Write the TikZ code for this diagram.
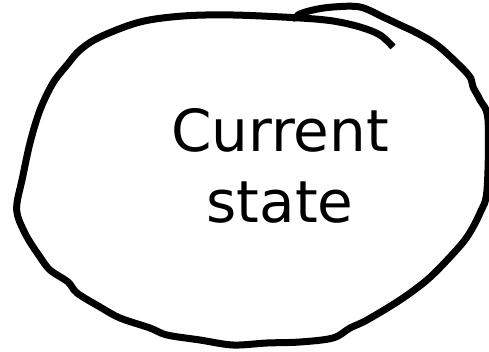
\documentclass[tikz,border=0pt]{standalone}
\usepackage{fontspec}
\setmainfont{DejaVu Sans}
\tikzset{
  stroke/.style={line width=7pt, line cap=butt, line join=round, black},
  label/.style={align=center, font=\fontsize{58}{71}\selectfont, inner sep=0pt}
}
\begin{document}
\begin{tikzpicture}[x=1pt,y=-1pt]
\useasboundingbox (0,0) rectangle (489,352);
\draw[stroke] plot[smooth, tension=0.55] coordinates {
 (393,47) (380,35) (360,27) (333,21) (300,18) (233,15) (183,16) (140,22)
 (100,37) (80,50) (67,65) (53,83) (40,110) (30,143) (22,180) (17,203)
 (18,217) (27,237) (40,257) (50,270) (68,282) (77,293) (100,307) (120,318)
 (150,328) (167,335) (200,340) (233,345) (267,343) (300,342) (333,338)
 (350,328) (367,320) (400,300) (427,280) (450,257) (467,237) (480,213)
 (487,190) (488,120) (480,100) (473,87) (470,77) (457,63) (437,45)
 (417,33) (400,25) (383,17) (360,7) (333,7) (313,10) (298,15) (297,21)};
\node[label] (txt) at (280,166) {Current\\state};
\end{tikzpicture}
\end{document}
